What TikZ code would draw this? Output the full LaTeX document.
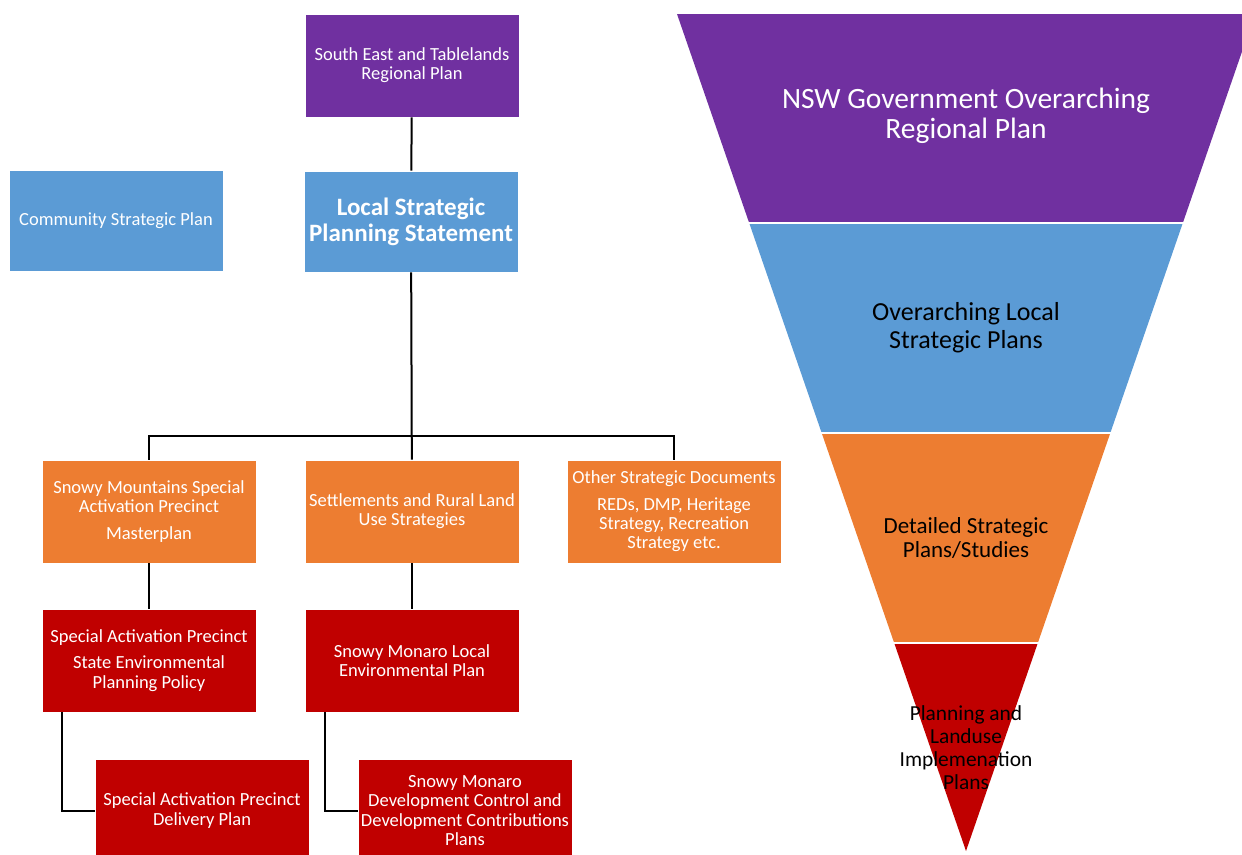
\documentclass[tikz,border=0pt]{standalone}
\usepackage{fontspec}
\setmainfont{Carlito}
\definecolor{planpurple}{HTML}{7030A0}
\definecolor{planblue}{HTML}{5B9BD5}
\definecolor{planorange}{HTML}{ED7D31}
\definecolor{planred}{HTML}{C00000}
\begin{document}
\begin{tikzpicture}[x=1pt,y=-1pt,
  box/.style={rectangle, minimum width=214pt, minimum height=103pt,
    draw=white, line width=0.8pt, text=white, align=center, inner sep=2pt,
    font=\fontsize{18.5}{19.3}\selectfont},
  link/.style={draw=black, line width=2pt},
  seg/.style={draw=white, line width=2pt},
  ftext/.style={align=center, inner sep=0pt}]
\useasboundingbox (0,0) rectangle (1242,854);
\clip (0,0) rectangle (1242,854);

% ---- hierarchy of plans ----
\node[box, fill=planpurple] (se) at (412,65.5) {South East and Tablelands\\Regional Plan};
\node[box, fill=planblue, minimum height=101pt] (csp) at (116,220.5) {Community Strategic Plan};
\node[box, fill=planblue, minimum height=101pt, font=\fontsize{25}{26}\selectfont\bfseries] (lsps) at (411,221.5) {Local Strategic\\Planning Statement};

\node[box, fill=planorange] (o1) at (149,511.5) {Snowy Mountains Special\\Activation Precinct\\[8pt]Masterplan};
\node[box, fill=planorange] (o2) at (412,511.5) {Settlements and Rural Land\\Use Strategies};
\node[box, fill=planorange] (o3) at (674,511.5) {Other Strategic Documents\\[7pt]REDs, DMP, Heritage\\Strategy, Recreation\\Strategy etc.};

\node[box, fill=planred] (r1) at (149,660.5) {Special Activation Precinct\\[7pt]State Environmental\\Planning Policy};
\node[box, fill=planred] (r2) at (412,660.5) {Snowy Monaro Local\\Environmental Plan};

\node[box, fill=planred] (d1) at (202,810.5) {Special Activation Precinct\\Delivery Plan};
\node[box, fill=planred] (d2) at (465,810.5) {Snowy Monaro\\Development Control and\\Development Contributions\\Plans};

% connectors
\draw[link] (se) -- (lsps);
\draw[link] (lsps) -- (o2);
\draw[link] (o1.north) -- ++(0,-24) -| (o3.north);
\draw[link] (o1) -- (r1);
\draw[link] (o2) -- (r2);
\draw[link] ([xshift=-87pt]r1.south) |- (d1.west);
\draw[link] ([xshift=-87pt]r2.south) |- (d2.west);

% ---- funnel ----
\fill[planpurple] (677,14) -- (1255,14) -- (1182.8,223) -- (749.2,223) -- cycle;
\fill[planblue] (749.2,223) -- (1182.8,223) -- (1110.3,433) -- (821.7,433) -- cycle;
\fill[planorange] (821.7,433) -- (1110.3,433) -- (1037.8,643) -- (894.2,643) -- cycle;
\fill[planred] (894.2,643) -- (1037.8,643) -- (966,851) -- cycle;
\draw[seg] (740,223) -- (1192,223);
\draw[seg] (812,433) -- (1120,433);
\draw[seg] (885,643) -- (1047,643);

\node[ftext, text=white, font=\fontsize{29.5}{30}\selectfont] (f1) at (966,116) {NSW Government Overarching\\Regional Plan};
\node[ftext, font=\fontsize{26}{28}\selectfont] (f2) at (966,328) {Overarching Local\\Strategic Plans};
\node[ftext, font=\fontsize{23}{24}\selectfont] (f3) at (966,538) {Detailed Strategic\\Plans/Studies};
\node[ftext, font=\fontsize{21.4}{23}\selectfont] (f4) at (966,747.5) {Planning and\\Landuse\\Implemenation\\Plans};
\end{tikzpicture}
\end{document}
